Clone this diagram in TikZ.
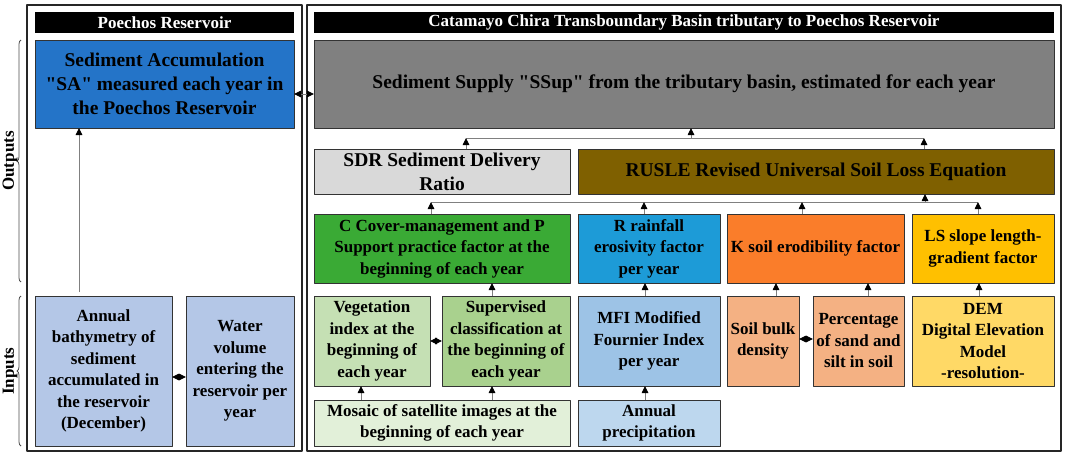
\documentclass[tikz,border=0pt]{standalone}
\usepackage{fontspec}
\setmainfont{Liberation Serif}
\usepackage{tikz}
\usetikzlibrary{arrows.meta,calc,decorations.pathreplacing}
\usepackage{xcolor}
\definecolor{saBlue}{RGB}{36,116,200}
\definecolor{supGray}{RGB}{128,128,128}
\definecolor{sdrGray}{RGB}{217,217,217}
\definecolor{rusleBrown}{RGB}{127,96,0}
\definecolor{cpGreen}{RGB}{58,170,53}
\definecolor{rBlue}{RGB}{29,155,215}
\definecolor{kOrange}{RGB}{250,125,42}
\definecolor{lsYellow}{RGB}{255,192,0}
\definecolor{vegGreen}{RGB}{197,224,180}
\definecolor{supGreen}{RGB}{169,209,142}
\definecolor{mfiBlue}{RGB}{157,195,230}
\definecolor{soilPeach}{RGB}{244,177,131}
\definecolor{demYellow}{RGB}{255,217,102}
\definecolor{mosGreen}{RGB}{226,240,217}
\definecolor{precBlue}{RGB}{189,215,238}
\definecolor{resBlue}{RGB}{180,199,231}

\begin{document}
\begin{tikzpicture}[x=1pt,y=-1pt,line join=round,
  box/.style={draw=black!80,line width=.9pt,inner sep=0pt,outer sep=0pt,align=center,
    font=\bfseries\fontsize{17}{21.5}\selectfont},
  big/.style={font=\bfseries\fontsize{19.5}{24}\selectfont},
  bar/.style={fill=black,text=white,inner sep=0pt,outer sep=0pt,
    font=\bfseries\fontsize{17}{20}\selectfont},
  frame/.style={draw=black!85,line width=1.2pt},
  link/.style={draw=black!50,line width=.9pt},
  arr/.style={link,-{Triangle[length=7pt,width=6.5pt,color=black]}},
  dbl/.style={link,{Triangle[length=7pt,width=6.5pt,color=black]}-{Triangle[length=7pt,width=6.5pt,color=black]}},
  brc/.style={draw=black!70,line width=.8pt,decorate,decoration={brace,amplitude=4pt}}]
  \useasboundingbox (0,0) rectangle (1065,455);
  \draw[frame] (27,5) rectangle (302,451);
  \draw[frame] (307,5) rectangle (1061,451);
  \node[bar,minimum width=259pt,minimum height=21pt] (titleL) at (164.5,22.5) {Poechos Reservoir};
  \node[bar,minimum width=740pt,minimum height=21pt] (titleR) at (684,22.5)
    {Catamayo Chira Transboundary Basin tributary to Poechos Reservoir};

  \node[box,big,fill=saBlue,minimum width=259pt,minimum height=88pt] (sa) at (164.5,84)
    {Sediment Accumulation\\\textquotedbl SA\textquotedbl{} measured each year in\\the Poechos Reservoir};
  \node[box,big,fill=supGray,minimum width=740pt,minimum height=88pt] (ssup) at (684,84)
    {Sediment Supply \textquotedbl SSup\textquotedbl{} from the tributary basin, estimated for each year};
  \node[box,big,fill=sdrGray,minimum width=256pt,minimum height=45pt] (sdr) at (442,171.5)
    {SDR Sediment Delivery\\Ratio};
  \node[box,big,fill=rusleBrown,minimum width=476pt,minimum height=45pt] (rusle) at (816,171.5)
    {RUSLE Revised Universal Soil Loss Equation};

  \node[box,fill=cpGreen,minimum width=256pt,minimum height=69pt] (cp) at (442,248.5)
    {C Cover-management and P\\Support practice factor at the\\beginning of each year};
  \node[box,fill=rBlue,minimum width=142pt,minimum height=69pt] (rfac) at (649,248.5)
    {R rainfall\\erosivity factor\\per year};
  \node[box,fill=kOrange,minimum width=177pt,minimum height=69pt] (kfac) at (815.5,248.5)
    {K soil erodibility factor};
  \node[box,fill=lsYellow,minimum width=142pt,minimum height=69pt] (ls) at (983,248.5)
    {LS slope length-\\gradient factor};

  \node[box,fill=vegGreen,minimum width=116pt,minimum height=90pt] (veg) at (372,341)
    {Vegetation\\index at the\\beginning of\\each year};
  \node[box,fill=supGreen,minimum width=128pt,minimum height=90pt] (sup) at (506,341)
    {Supervised\\classification at\\the beginning of\\each year};
  \node[box,fill=mfiBlue,minimum width=142pt,minimum height=90pt] (mfi) at (649,341)
    {MFI Modified\\Fournier Index\\per year};
  \node[box,fill=soilPeach,minimum width=72pt,minimum height=90pt] (bulk) at (763,341)
    {Soil bulk\\density};
  \node[box,fill=soilPeach,minimum width=91pt,minimum height=90pt] (perc) at (858.5,341)
    {Percentage\\of sand and\\silt in soil};
  \node[box,fill=demYellow,minimum width=142pt,minimum height=90pt] (dem) at (983,341)
    {DEM\\Digital Elevation\\Model\\-resolution-};

  \node[box,fill=mosGreen,minimum width=256pt,minimum height=46pt] (mosaic) at (442,423)
    {Mosaic of satellite images at the\\beginning of each year};
  \node[box,fill=precBlue,minimum width=142pt,minimum height=46pt] (prec) at (649,423)
    {Annual\\precipitation};

  \node[box,fill=resBlue,minimum width=137pt,minimum height=150pt] (bath) at (103.5,371)
    {Annual\\bathymetry of\\sediment\\accumulated in\\the reservoir\\(December)};
  \node[box,fill=resBlue,minimum width=108pt,minimum height=150pt] (water) at (240,371)
    {Water\\volume\\entering the\\reservoir per\\year};

  \draw[brc] (21,282) -- (21,40);
  \draw[brc] (21,446) -- (21,296);
  \node[rotate=90,font=\bfseries\fontsize{17}{20}\selectfont] (outLbl) at (10,161) {Outputs};
  \node[rotate=90,font=\bfseries\fontsize{17}{20}\selectfont] (inLbl) at (10,371) {Inputs};

  \draw[dbl] ([yshift=-10pt]sa.east) -- ([yshift=-10pt]ssup.west);
  \draw[arr] ([xshift=-24.5pt,yshift=4pt]bath.north) -- ([xshift=-24.5pt]bath.north |- sa.south);
  \draw[dbl] ([yshift=-6pt]bath.east) -- ([yshift=-6pt]water.west);

  \coordinate (ja) at (466,138);
  \coordinate (jaR) at (924,138);
  \draw[link] (ja) -- (jaR);
  \draw[arr] (sdr.north -| ja) -- (ja);
  \draw[arr] (rusle.north -| jaR) -- (jaR);
  \draw[arr] ([xshift=7pt]ssup.south |- ja) -- ([xshift=7pt]ssup.south);

  \coordinate (jb) at (431,202);
  \coordinate (jbR) at (978,202);
  \draw[link] (jb) -- (jbR);
  \draw[arr] (cp.north -| jb) -- (jb);
  \draw[arr] ([xshift=-5pt]rfac.north) -- ([xshift=-5pt]rfac.north |- jb);
  \draw[arr] ([xshift=-13.5pt]kfac.north) -- ([xshift=-13.5pt]kfac.north |- jb);
  \draw[arr] (ls.north -| jbR) -- (jbR);
  \draw[arr] ([xshift=109pt]rusle.south |- jb) -- ([xshift=109pt]rusle.south);

  \draw[arr] ([xshift=-14pt]sup.north) -- ([xshift=-14pt]sup.north |- cp.south);
  \draw[arr] ([xshift=-4pt]mfi.north) -- ([xshift=-4pt]mfi.north |- rfac.south);
  \draw[arr] ([xshift=13pt]bulk.north) -- ([xshift=13pt]bulk.north |- kfac.south);
  \draw[arr] ([xshift=9.5pt]perc.north) -- ([xshift=9.5pt]perc.north |- kfac.south);
  \draw[arr] ([xshift=-4pt]dem.north) -- ([xshift=-4pt]dem.north |- ls.south);

  \draw[dbl] (veg.east) -- (sup.west);
  \draw[dbl] ([yshift=2pt]bulk.east) -- ([yshift=2pt]perc.west);

  \draw[arr] ([xshift=-11pt]veg.south |- mosaic.north) -- ([xshift=-11pt]veg.south);
  \draw[arr] ([xshift=-14pt]sup.south |- mosaic.north) -- ([xshift=-14pt]sup.south);
  \draw[arr] ([xshift=-4pt]mfi.south |- prec.north) -- ([xshift=-4pt]mfi.south);
\end{tikzpicture}
\end{document}
